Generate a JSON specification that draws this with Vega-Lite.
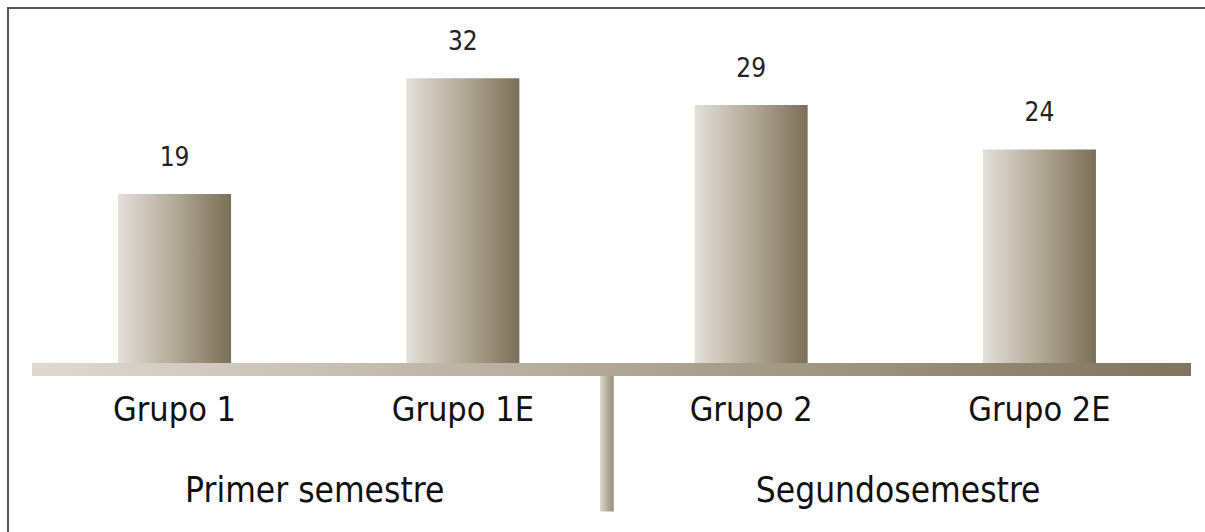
{
  "$schema": "https://vega.github.io/schema/vega-lite/v6.json",
  "width": 1198,
  "height": 532,
  "autosize": {"type": "none"},
  "padding": {"left": 8, "top": 8, "right": 0, "bottom": 0},
  "background": "white",
  "config": {
    "view": {"stroke": "#555555", "strokeWidth": 2},
    "font": "'DejaVu Sans Condensed', 'Liberation Sans', sans-serif"
  },
  "datasets": {
    "grupos": [
      {"grupo": "Grupo 1", "valor": 19},
      {"grupo": "Grupo 1E", "valor": 32},
      {"grupo": "Grupo 2", "valor": 29},
      {"grupo": "Grupo 2E", "valor": 24}
    ],
    "semestres": [
      {"semestre": "Primer semestre", "centro": 25.6},
      {"semestre": "Segundosemestre", "centro": 74.3}
    ]
  },
  "resolve": {"scale": {"x": "independent"}},
  "layer": [
    {
      "data": {"values": [{}]},
      "mark": {"type": "rect", "color": {"gradient": "linear", "stops": [{"offset": 0, "color": "#dedad2"}, {"offset": 0.5, "color": "#b0a797"}, {"offset": 1, "color": "#7f755f"}]}},
      "encoding": {
        "x": {"datum": 2.0, "type": "quantitative", "scale": {"domain": [0, 100]}, "axis": null},
        "x2": {"datum": 98.75},
        "y": {"datum": 0, "type": "quantitative", "scale": {"domain": [-19.89, 39.89], "nice": false, "zero": false}, "axis": null},
        "y2": {"datum": -1.46}
      }
    },
    {
      "data": {"values": [{}]},
      "mark": {"type": "rect", "color": {"gradient": "linear", "stops": [{"offset": 0, "color": "#dcd7ce"}, {"offset": 1, "color": "#968b76"}]}},
      "encoding": {
        "x": {"datum": 49.42, "type": "quantitative", "scale": {"domain": [0, 100]}, "axis": null},
        "x2": {"datum": 50.56},
        "y": {"datum": -1.46, "type": "quantitative", "scale": {"domain": [-19.89, 39.89], "nice": false, "zero": false}, "axis": null},
        "y2": {"datum": -16.7}
      }
    },
    {
      "data": {"name": "semestres"},
      "mark": {"type": "text", "fontSize": 35, "color": "#111111", "align": "center", "baseline": "alphabetic"},
      "encoding": {
        "x": {"field": "centro", "type": "quantitative", "scale": {"domain": [0, 100]}, "axis": null},
        "y": {"datum": -15.6, "type": "quantitative", "scale": {"domain": [-19.89, 39.89], "nice": false, "zero": false}, "axis": null},
        "text": {"field": "semestre"}
      }
    },
    {
      "data": {"name": "grupos"},
      "encoding": {
        "x": {"field": "grupo", "type": "nominal", "sort": null, "scale": {"paddingInner": 0.608, "paddingOuter": 0.3817}, "axis": null}
      },
      "layer": [
        {
          "mark": {"type": "bar", "color": {"gradient": "linear", "stops": [{"offset": 0, "color": "#e3e0da"}, {"offset": 0.5, "color": "#b2a998"}, {"offset": 1, "color": "#7a6f57"}]}},
          "encoding": {
            "y": {"field": "valor", "type": "quantitative", "scale": {"domain": [-19.89, 39.89], "nice": false, "zero": false}, "axis": null},
            "y2": {"datum": 0}
          }
        },
        {
          "mark": {"type": "text", "fontSize": 26, "color": "#222222", "align": "center", "baseline": "alphabetic", "dy": -28},
          "encoding": {
            "y": {"field": "valor", "type": "quantitative", "scale": {"domain": [-19.89, 39.89], "nice": false, "zero": false}, "axis": null},
            "text": {"field": "valor"}
          }
        },
        {
          "mark": {"type": "text", "fontSize": 34, "color": "#111111", "align": "center", "baseline": "alphabetic"},
          "encoding": {
            "y": {"datum": -6.5, "type": "quantitative", "scale": {"domain": [-19.89, 39.89], "nice": false, "zero": false}, "axis": null},
            "text": {"field": "grupo"}
          }
        }
      ]
    }
  ]
}
